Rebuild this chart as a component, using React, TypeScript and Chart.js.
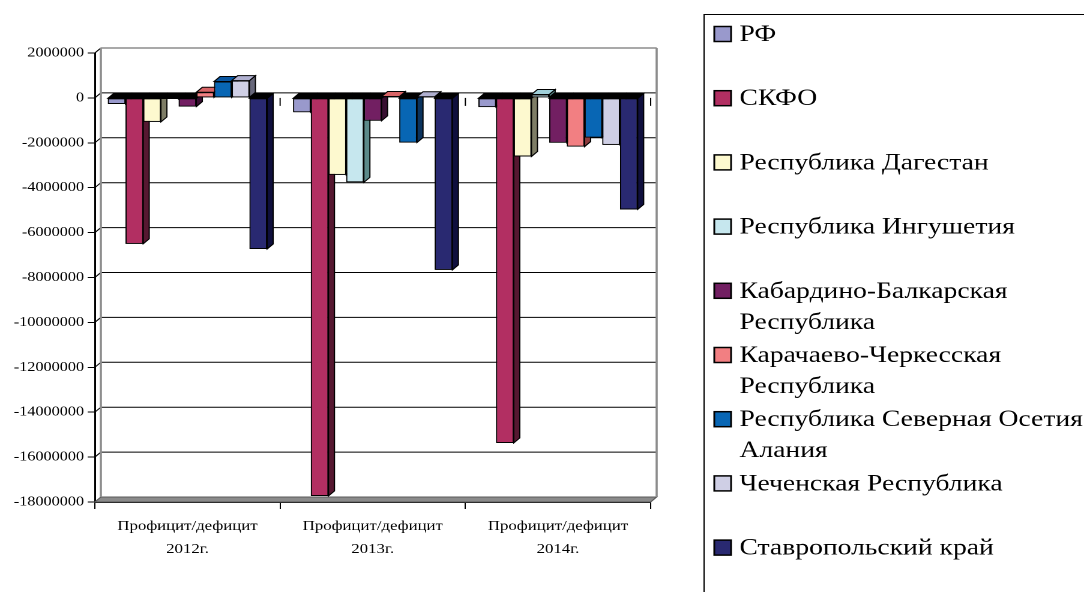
import React, { useEffect, useRef } from 'react';
import { Chart, registerables } from 'chart.js';

Chart.register(...registerables);

// ---- data ----
const categories = [
  ['Профицит/дефицит', '2012г.'],
  ['Профицит/дефицит', '2013г.'],
  ['Профицит/дефицит', '2014г.'],
];
const seriesNames = [
  'РФ',
  'СКФО',
  'Республика Дагестан',
  'Республика Ингушетия',
  'Кабардино-Балкарская Республика',
  'Карачаево-Черкесская Республика',
  'Республика Северная Осетия - Алания',
  'Чеченская Республика',
  'Ставропольский край',
];
const rf = [-270000, -640000, -410000];
const skfo = [-6500000, -17730000, -15370000];
const dagestan = [-1070000, -3430000, -2610000];
const ingushetia = [-50000, -3760000, 150000];
const kbr = [-390000, -1020000, -2000000];
const kchr = [250000, 60000, -2170000];
const osetia = [730000, -1990000, -1770000];
const chechnya = [770000, 50000, -2090000];
const stavropol = [-6730000, -7660000, -4970000];
const seriesValues = [rf, skfo, dagestan, ingushetia, kbr, kchr, osetia, chechnya, stavropol];
const yMin = -18000000;
const yMax = 2000000;
const yStep = 2000000;

// ---- styles ----
const barColors = ['#9999cc', '#b22f62', '#fdf9cf', '#c6e7ee', '#721f62', '#f27f82', '#0866b4', '#cfcfe5', '#292971'];
const sideColors = ['#4d4d70', '#561831', '#7e7d66', '#5b8a8a', '#380f31', '#8c3c3e', '#0b335e', '#67677a', '#0f0f3d'];
const topColors = ['#8080b8', '#902650', '#d8d4a8', '#a0d0da', '#5c184e', '#d86466', '#0a56a0', '#b0b0d0', '#202060'];
const SERIF = '"Liberation Serif", "Times New Roman", serif';
const DX = 5;
const DY = 5;

const threeD = {
  id: 'threeD',
  beforeDatasetsDraw(chart: any) {
    const { ctx, chartArea } = chart;
    const { left, right, top, bottom } = chartArea;
    const y = chart.scales.y;
    ctx.save();
    // floor
    ctx.beginPath();
    ctx.moveTo(left, bottom);
    ctx.lineTo(left + DX, bottom - DY);
    ctx.lineTo(right + DX, bottom - DY);
    ctx.lineTo(right, bottom);
    ctx.closePath();
    ctx.fillStyle = '#8a8a8a';
    ctx.fill();
    ctx.strokeStyle = '#5a5a5a';
    ctx.lineWidth = 1;
    ctx.stroke();
    // back wall gridlines
    y.ticks.forEach((t: any, i: number) => {
      const py = y.getPixelForValue(t.value);
      if (t.value === yMin) return;
      ctx.beginPath();
      ctx.moveTo(left + DX, py - DY);
      ctx.lineTo(right + DX, py - DY);
      ctx.strokeStyle = t.value === yMax ? '#8c8c8c' : '#000';
      ctx.lineWidth = t.value === yMax ? 1.5 : 1;
      ctx.stroke();
      ctx.beginPath();
      ctx.moveTo(left, py);
      ctx.lineTo(left + DX, py - DY);
      ctx.strokeStyle = '#000';
      ctx.lineWidth = 1;
      ctx.stroke();
    });
    // wall edges
    ctx.strokeStyle = '#8c8c8c';
    ctx.lineWidth = 1.8;
    ctx.beginPath();
    ctx.moveTo(left + DX, top - DY);
    ctx.lineTo(left + DX, bottom - DY);
    ctx.moveTo(right + DX, top - DY);
    ctx.lineTo(right + DX, bottom - DY);
    ctx.stroke();
    // ticks under the zero line at category boundaries
    const xs = chart.scales.x;
    const y0 = y.getPixelForValue(0);
    ctx.strokeStyle = '#000';
    ctx.lineWidth = 1;
    for (let i = 0; i <= categories.length; i++) {
      const px = xs.getPixelForValue(i - 0.5);
      ctx.beginPath();
      ctx.moveTo(px, y0);
      ctx.lineTo(px, y0 + 8);
      ctx.stroke();
    }
    ctx.restore();
  },
  afterDatasetsDraw(chart: any) {
    const { ctx } = chart;
    ctx.save();
    for (let i = 0; i < chart.data.datasets.length; i++) {
      const meta = chart.getDatasetMeta(i);
      meta.data.forEach((el: any) => {
        const { x, y, base, width } = el.getProps(['x', 'y', 'base', 'width'], true);
        el.draw(ctx);
        const l = x - width / 2;
        const r = x + width / 2;
        const t = Math.min(y, base);
        const b = Math.max(y, base);
        const positive = y < base;
        ctx.lineWidth = 1;
        ctx.strokeStyle = '#000';
        // side face
        ctx.beginPath();
        ctx.moveTo(r, t);
        ctx.lineTo(r + DX, t - DY);
        ctx.lineTo(r + DX, b - DY);
        ctx.lineTo(r, b);
        ctx.closePath();
        ctx.fillStyle = sideColors[i];
        ctx.fill();
        ctx.stroke();
        // top face
        ctx.beginPath();
        ctx.moveTo(l, t);
        ctx.lineTo(l + DX, t - DY);
        ctx.lineTo(r + DX, t - DY);
        ctx.lineTo(r, t);
        ctx.closePath();
        ctx.fillStyle = positive ? topColors[i] : '#000';
        ctx.fill();
        ctx.stroke();
      });
    }
    ctx.restore();
  },
};

function wrapText(ctx: CanvasRenderingContext2D, text: string, maxW: number): string[] {
  const words = text.split(' ');
  const lines: string[] = [];
  let cur = '';
  for (const w of words) {
    const t = cur ? cur + ' ' + w : w;
    if (cur && ctx.measureText(t).width > maxW) {
      lines.push(cur);
      cur = w;
    } else cur = t;
  }
  if (cur) lines.push(cur);
  return lines;
}

const sideLegend = {
  id: 'sideLegend',
  afterDraw(chart: any) {
    const { ctx } = chart;
    ctx.save();
    ctx.strokeStyle = '#000';
    ctx.lineWidth = 1;
    ctx.strokeRect(586.5, 14.5, 500, 700);
    ctx.font = `23px ${SERIF}`;
    ctx.textBaseline = 'alphabetic';
    ctx.textAlign = 'left';
    chart.data.datasets.forEach((ds: any, i: number) => {
      const baseY = 41 + 64.2 * i;
      ctx.fillStyle = ds.backgroundColor;
      ctx.fillRect(595, baseY - 14.5, 14, 15);
      ctx.lineWidth = 1.5;
      ctx.strokeStyle = '#000';
      ctx.strokeRect(595, baseY - 14.5, 14, 15);
      ctx.fillStyle = '#000';
      const lines = wrapText(ctx, ds.label, 318);
      lines.forEach((ln, k) => ctx.fillText(ln, 616, baseY + 31 * k));
    });
    ctx.restore();
  },
};

export default function App() {
  const ref = useRef<HTMLCanvasElement>(null);
  useEffect(() => {
    const canvas = ref.current;
    if (!canvas) return;
    const chart = new Chart(canvas, {
      type: 'bar',
      data: {
        labels: categories,
        datasets: seriesNames.map((name, i) => ({
          label: name,
          data: seriesValues[i],
          backgroundColor: barColors[i],
          borderColor: '#000',
          borderWidth: 1,
          borderSkipped: false,
          categoryPercentage: 0.86,
          barPercentage: 1.0,
        })),
      },
      options: {
        responsive: false,
        animation: false,
        devicePixelRatio: 2,
        layout: { padding: { left: 0, right: 361, top: 53, bottom: 0 } },
        plugins: {
          legend: { display: false },
          tooltip: { enabled: false },
        },
        scales: {
          x: {
            afterFit: (s: any) => { s.height = 90; },
            grid: { offset: true, drawOnChartArea: false, color: '#000', tickLength: 7 },
            border: { color: '#000', width: 1.5 },
            ticks: {
              color: '#000',
              padding: 6,
              maxRotation: 0,
              autoSkip: false,
              font: { family: SERIF, size: 14, lineHeight: 1.64 },
            },
          },
          y: {
            min: yMin,
            max: yMax,
            afterFit: (s: any) => { s.width = 79; },
            grid: { drawOnChartArea: false, color: '#000', tickLength: 6 },
            border: { color: '#000', width: 1.5 },
            ticks: {
              stepSize: yStep,
              color: '#000',
              padding: 3,
              font: { family: SERIF, size: 13.5 },
              callback: (v: any) => String(v),
            },
          },
        },
      },
      plugins: [threeD, sideLegend],
    } as any);
    return () => chart.destroy();
  }, []);
  return (
    <div style={{ position: 'fixed', left: 0, top: 0, width: 1084, height: 592, background: '#fff', overflow: 'hidden' }}>
      <canvas ref={ref} width={903} height={592} style={{ display: 'block', width: '1084px', height: '592px' }} />
    </div>
  );
}
